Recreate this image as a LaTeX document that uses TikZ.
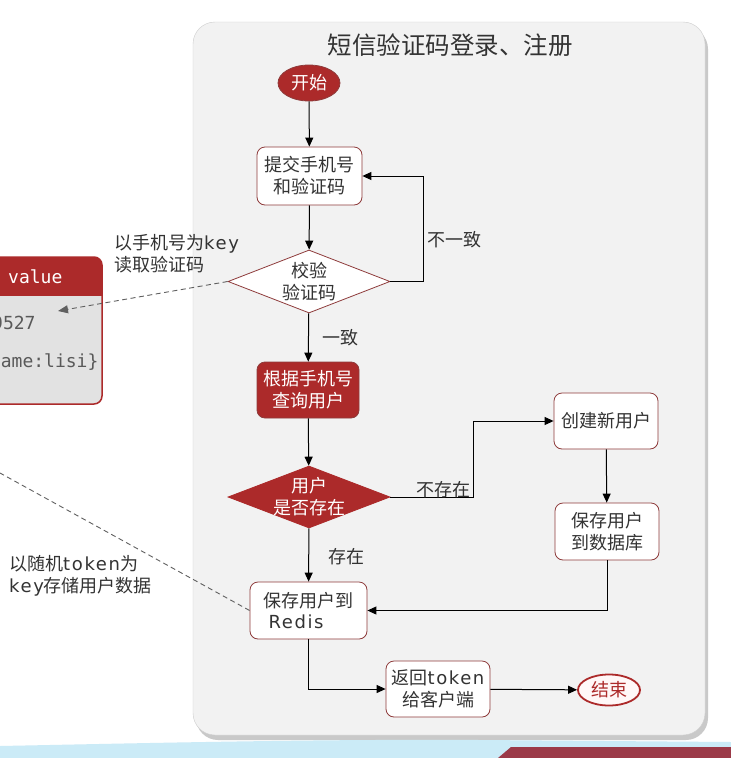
\documentclass[tikz,border=0pt]{standalone}
\usepackage{fontspec}
\setmainfont{Noto Sans CJK SC}
\newfontfamily\monofont{DejaVu Sans Mono}
\newfontfamily\latinfont{DejaVu Sans}[LetterSpace=9]
\newcommand\lat[1]{{\latinfont #1}}
\usetikzlibrary{shapes.geometric,arrows.meta,shadows}
\definecolor{dred}{HTML}{AC2A2A}
\definecolor{bred}{HTML}{8E3B3B}
\definecolor{panel}{HTML}{F2F2F2}
\definecolor{txt}{HTML}{333333}
\definecolor{lblue}{HTML}{CBEBF7}
\definecolor{banner}{HTML}{9B3A48}
\definecolor{tblbody}{HTML}{E2E2E2}
\tikzset{
  nfont/.style={font=\fontsize{18}{22}\selectfont},
  wbox/.style={nfont, rectangle, rounded corners=8pt, draw=bred, line width=0.8pt, fill=white, text=txt, align=center, inner sep=0pt},
  rbox/.style={nfont, rectangle, rounded corners=8pt, draw=bred, line width=0.8pt, fill=dred, text=white, align=center, inner sep=0pt},
  wdia/.style={diamond, draw=bred, line width=0.8pt, fill=white, inner sep=0pt},
  rdia/.style={diamond, draw=dred, line width=0.8pt, fill=dred, inner sep=0pt},
  wdlab/.style={nfont, text=txt, align=center, inner sep=0pt},
  rdlab/.style={nfont, text=white, align=center, inner sep=0pt},
  arr/.style={draw=black, line width=1pt, -{Triangle[length=9pt,width=8pt]}},
  lbl/.style={nfont, text=txt, inner sep=0pt},
  dashline/.style={draw=gray!75!black, line width=0.9pt, dash pattern=on 5pt off 3.5pt},
  mtext/.style={font=\monofont\fontsize{18}{22}\selectfont, inner sep=0pt, anchor=west},
}
\begin{document}
\begin{tikzpicture}[x=1pt,y=-1pt]
\useasboundingbox (0,0) rectangle (731,758);
\fill[white] (0,0) rectangle (731,758);
% panel
\path[fill=panel, rounded corners=22pt, drop shadow={shadow xshift=3pt, shadow yshift=-5pt, opacity=0.35, fill=black!60}] (193,22) rectangle (705,735);
\draw[panel!85!black, line width=0.4pt, rounded corners=22pt] (193,22) rectangle (705,735);
\node[font=\fontsize{24.5}{28}\selectfont, text=txt, inner sep=0pt] (title) at (450,45) {短信验证码登录、注册};
% bottom band
\fill[lblue] (0,758) -- (0,746) .. controls (150,743) and (320,739) .. (480,740) -- (731,742) -- (731,758) -- cycle;
\fill[banner] (498,758) -- (511,747) -- (731,747) -- (731,758) -- cycle;
% left table
\begin{scope}
\clip[rounded corners=8pt] (-30,257) rectangle (102,404);
\fill[tblbody] (-30,257) rectangle (102,404);
\fill[dred] (-30,257) rectangle (102,296);
\end{scope}
\draw[dred, line width=1.5pt, rounded corners=8pt] (-30,257) rectangle (102,404);
\node[mtext, text=white] (hval) at (8,277) {value};
\node[mtext, text=black!65] (v1) at (-8,323) {9527};
\node[mtext, text=black!65] (v2) at (-21,362) {\{name:lisi\}};
% nodes
\node[rbox, ellipse, rounded corners=0pt, minimum width=62pt, minimum height=36pt] (start) at (309,83) {开始};
\node[wbox, minimum width=105pt, minimum height=58pt] (b1) at (309.5,176) {提交手机号\\和验证码};
\node[wdia, minimum width=162pt, minimum height=63pt, label={[wdlab]center:{校验\\验证码}}] (d1) at (309,281.5) {};
\node[rbox, minimum width=102pt, minimum height=56pt] (b2) at (308,390) {根据手机号\\查询用户};
\node[rdia, minimum width=162pt, minimum height=62pt, label={[rdlab]center:{用户\\是否存在}}] (d2) at (309,497) {};
\node[wbox, minimum width=104pt, minimum height=56pt] (b3) at (606,421) {创建新用户};
\node[wbox, minimum width=104pt, minimum height=57pt] (b4) at (607,531.5) {保存用户\\到数据库};
\node[wbox, minimum width=117pt, minimum height=57pt, align=left] (b5) at (308.5,610.5) {保存用户到\\[-1pt]\hspace*{5pt}\lat{Redis}};
\node[wbox, minimum width=104pt, minimum height=56pt] (b6) at (438,689) {返回\lat{token}\\给客户端};
\node[nfont, ellipse, draw=dred, line width=1.8pt, fill=red!3, text=dred, minimum width=62pt, minimum height=31pt, inner sep=0pt] (end) at (609,690) {结束};
% connectors
\draw[arr] (start) -- (b1);
\draw[arr] (b1) -- (d1);
\draw[arr] (d1.east) -- ++(33,0) |- (b1.east);
\node[lbl] (l1) at (454,240) {不一致};
\draw[arr] (d1) -- (b2);
\node[lbl] (l2) at (340,338) {一致};
\draw[arr] (b2) -- (d2);
\draw[arr] (d2.east) -- ++(83,0) |- (b3.west);
\node[lbl] (l3) at (443,490) {不存在};
\draw[arr] (b3) -- (b4);
\draw[arr] (b4.south) |- (b5.east);
\draw[arr] (d2) -- (b5);
\node[lbl] (l4) at (346,557) {存在};
\draw[arr] (b5.south) |- (b6.west);
\draw[arr] (b6) -- (end);
% dashed connectors
\coordinate (tblpt) at (58,311);
\draw[dashline, -{Triangle[length=10pt,width=8pt]}] (d1.west) -- (tblpt);
\coordinate (far) at (-20,462);
\draw[dashline] (b5.west) -- (far);
\node[lbl, align=left, anchor=west] (k1) at (114,254) {以手机号为\lat{key}\\读取验证码};
\node[lbl, align=left, anchor=west] (k2) at (9,576) {以随机\lat{token}为\\\lat{key}存储用户数据};
\end{tikzpicture}
\end{document}
